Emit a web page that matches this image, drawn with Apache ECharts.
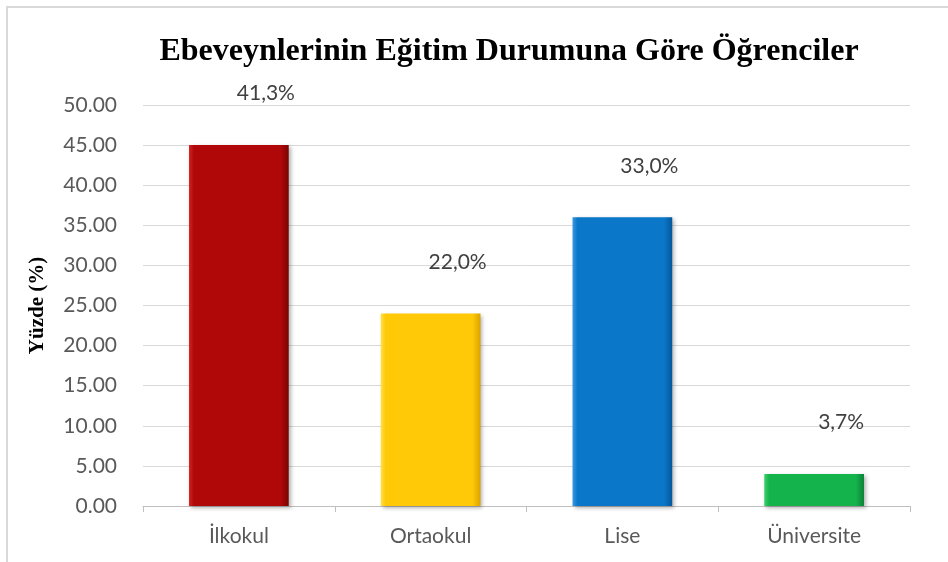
<!DOCTYPE html>
<html>
<head>
<meta charset="utf-8">
<script src="https://cdn.jsdelivr.net/npm/echarts@6/dist/echarts.min.js"></script>
<style>
html,body{margin:0;padding:0;background:#fff;}
#c{width:948px;height:562px;}
</style>
</head>
<body>
<div id="c"></div>
<script>
const categories = ['İlkokul', 'Ortaokul', 'Lise', 'Üniversite'];
const values = [45, 24, 36, 4];
const labelTexts = ['41,3%', '22,0%', '33,0%', '3,7%'];
const yTicks = ['0.00','5.00','10.00','15.00','20.00','25.00','30.00','35.00','40.00','45.00','50.00'];

const palette = [
  ['#7a0505', '#b00808', '#d42222'],
  ['#d9a400', '#ffc907', '#ffe04a'],
  ['#05579a', '#0a77c9', '#3a98e0'],
  ['#0b8036', '#14b34c', '#3ed06e']
];

function barColor(i) {
  const p = palette[i];
  return new echarts.graphic.LinearGradient(0, 0, 1, 0, [
    { offset: 0, color: p[2] },
    { offset: 0.05, color: p[1] },
    { offset: 0.92, color: p[1] },
    { offset: 1, color: p[0] }
  ]);
}

const chart = echarts.init(document.getElementById('c'));
chart.setOption({
  backgroundColor: '#fff',
  animation: false,
  title: {
    text: 'Ebeveynlerinin Eğitim Durumuna Göre Öğrenciler',
    left: 504,
    textAlign: 'center',
    top: 31,
    textStyle: { fontFamily: 'Liberation Serif', fontWeight: 'bold', fontSize: 32, color: '#000' }
  },
  graphic: [{
    type: 'polyline',
    shape: { points: [[7, 562], [7, 7], [948, 7]] },
    style: { stroke: '#d9d9d9', lineWidth: 2, fill: null },
    silent: true
  }],
  grid: { left: 143, right: 38, top: 105, bottom: 56 },
  xAxis: {
    type: 'category',
    data: categories,
    axisLine: { lineStyle: { color: '#bfbfbf', width: 1 } },
    axisTick: { show: true, alignWithLabel: false, length: 6, lineStyle: { color: '#bfbfbf' } },
    axisLabel: { fontFamily: 'Lato', fontSize: 21, color: '#595959', margin: 20 }
  },
  yAxis: {
    type: 'value',
    min: 0, max: 50, interval: 5,
    name: 'Yüzde (%)',
    nameLocation: 'middle',
    nameGap: 95,
    nameTextStyle: { fontFamily: 'Liberation Serif', fontWeight: 'bold', fontSize: 21, color: '#000' },
    axisLine: { show: false },
    axisTick: { show: false },
    splitLine: { lineStyle: { color: '#d9d9d9', width: 1 } },
    axisLabel: {
      fontFamily: 'Lato', fontSize: 21, color: '#595959', margin: 26,
      formatter: function (v) { return yTicks[Math.round(v / 5)]; }
    }
  },
  series: [{
    type: 'bar',
    barWidth: '52%',
    data: values.map(function (v, i) {
      return {
        value: v,
        itemStyle: { color: barColor(i) },
        label: { formatter: labelTexts[i] }
      };
    }),
    itemStyle: {
      shadowColor: 'rgba(0,0,0,0.3)', shadowBlur: 4, shadowOffsetX: 2, shadowOffsetY: 2
    },
    label: {
      show: true,
      position: 'top',
      distance: 5,
      offset: [27, -36],
      fontFamily: 'Lato', fontSize: 21, color: '#404040'
    }
  }]
});
</script>
</body>
</html>
